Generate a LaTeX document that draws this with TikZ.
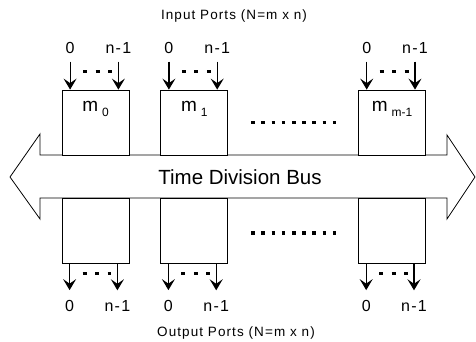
\documentclass[tikz,border=0pt]{standalone}
\usepackage{fontspec}
\setmainfont{Liberation Sans}
\newfontfamily\spacedfont[LetterSpace=8]{Liberation Sans}
\usetikzlibrary{arrows.meta,positioning,calc}

\newcommand{\modname}[1]{m\kern4pt\raisebox{-5pt}{\fontsize{12}{12}\selectfont #1}}

\begin{document}
\begin{tikzpicture}[x=1pt, y=-1pt, line width=0.8pt, >={Stealth[length=11pt,width=13pt,inset=4.5pt]}]
        \tikzset{
          module/.style={draw, fill=white, minimum width=67pt, minimum height=65pt, inner sep=0pt},
          portlbl/.style={font=\spacedfont\fontsize{16}{16}\selectfont, inner sep=2pt},
          modlbl/.style={font=\fontsize{19}{19}\selectfont, anchor=base, inner sep=0pt},
          inport/.style={->, line width=1.2pt, shorten <=6pt},
          outport/.style={->, line width=1.2pt, shorten >=8pt},
          portdots/.style={line width=3pt, dash pattern=on 4pt off 8.5pt},
          moredots/.style={line width=3.5pt, dash pattern=on 3.5pt off 6.7pt},
          title/.style={font=\spacedfont\fontsize{13.5}{13.5}\selectfont}
        }
        \useasboundingbox (0,0) rectangle (476,341);

        % the bus
        \draw (10,177) -- (40,134) -- (40,155) -- (447,155) -- (447,135) -- (475,177)
              -- (447,219) -- (447,198) -- (40,198) -- (40,219) -- cycle;
        \node[font=\fontsize{20.5}{20.5}\selectfont] (bus) at (240,177) {Time Division Bus};

        % modules above and below the bus
        \node[module] (m0) at (95.5,122.5) {};
        \node[module, right=31pt of m0] (m1) {};
        \node[module, right=130pt of m1] (mm) {};
        \node[module, below=43pt of m0] (n0) {};
        \node[module, below=43pt of m1] (n1) {};
        \node[module, below=43pt of mm] (nm) {};

        \node[modlbl] (l0) at ([yshift=-22pt]m0.north) {\modname{0}};
        \node[modlbl] (l1) at ([yshift=-22pt]m1.north) {\modname{1}};
        \node[modlbl] (lm) at ([yshift=-22pt]mm.north) {\modname{m-1}};

        \draw[moredots] ($(m1.east)+(23,0)$) -- ($(mm.west)+(-22,0)$);
        \draw[moredots] ($(n1.east)+(23,1.5)$) -- ($(nm.west)+(-22,1.5)$);

        % input ports
        \foreach \m in {m0,m1,mm} {
          \node[portlbl] (\m a) at ([xshift=8.5pt,yshift=42pt]\m.north west) {0};
          \node[portlbl] (\m b) at ([xshift=-11pt,yshift=42pt]\m.north east) {n-1};
          \draw[inport] (\m a) -- (\m a |- \m.north);
          \draw[inport] (\m b) -- (\m b |- \m.north);
          \draw[portdots] ($(\m a |- \m.north)+(13,-18)$) -- ($(\m b |- \m.north)+(-6,-18)$);
        }

        % output ports
        \foreach \m in {n0,n1,nm} {
          \node[portlbl] (\m a) at ([xshift=8pt,yshift=-42pt]\m.south west) {0};
          \node[portlbl] (\m b) at ([xshift=-12pt,yshift=-42pt]\m.south east) {n-1};
          \draw[outport] (\m a |- \m.south) -- (\m a);
          \draw[outport] (\m b |- \m.south) -- (\m b);
          \draw[portdots] ($(\m a |- \m.south)+(13,9)$) -- ($(\m b |- \m.south)+(-6,9)$);
        }

        \node[title] (inputs) at (234,16) {Input Ports (N=m x n)};
        \node[title] (outputs) at (236,333) {Output Ports (N=m x n)};
    \end{tikzpicture}
\end{document}
